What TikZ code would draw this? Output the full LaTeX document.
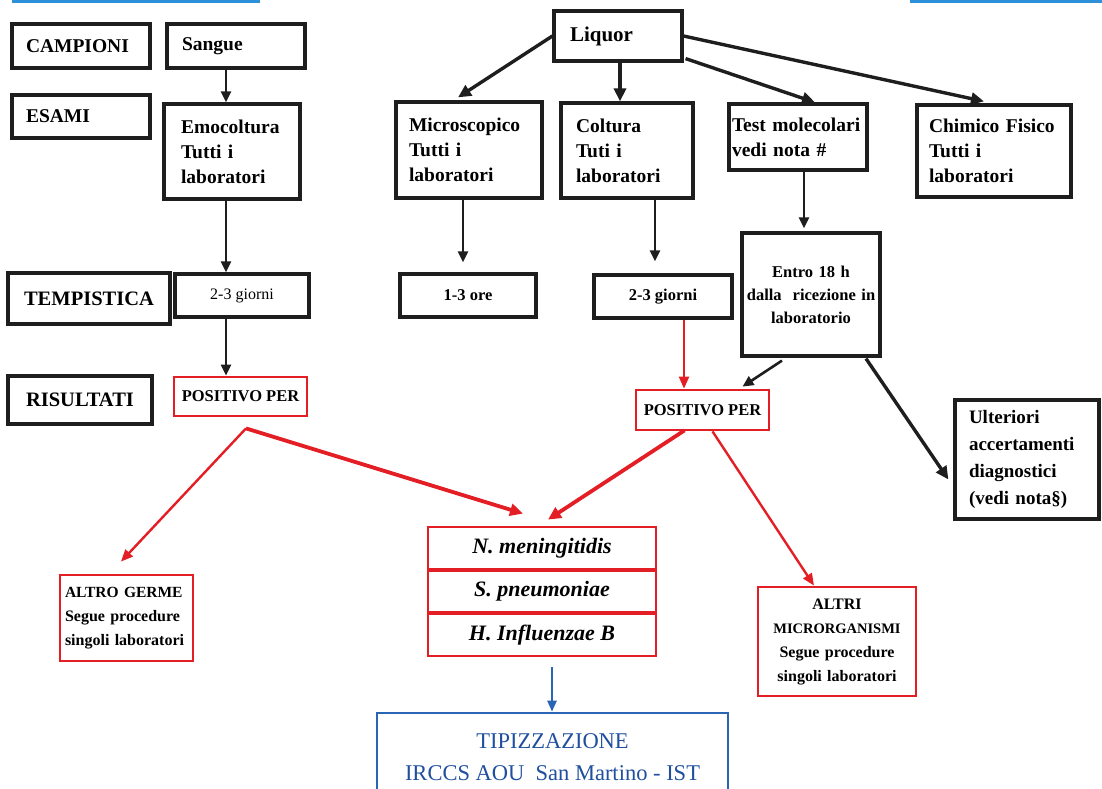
\documentclass[tikz,border=0pt]{standalone}
\usepackage{fontspec}
\setmainfont{Liberation Serif}
\usetikzlibrary{arrows.meta,calc}
\definecolor{bk}{HTML}{1E1E1E}
\definecolor{rd}{HTML}{E31E25}
\definecolor{bl}{HTML}{2A64B4}
\definecolor{bltxt}{HTML}{1F4F9E}
\definecolor{topbl}{HTML}{2E90D8}
\begin{document}
\begin{tikzpicture}[x=1pt,y=-1pt,
  bbox/.style={draw=bk, line width=3.2pt, inner sep=0pt, fill=white, text=black},
  rbox/.style={draw=rd, line width=2.8pt, inner sep=0pt, fill=white, text=black},
  lft/.style={align=left},
  ctr/.style={align=center},
  fbody/.style={font=\fontsize{19.5}{25}\selectfont\bfseries},
  fhead/.style={font=\fontsize{20.5}{25}\selectfont\bfseries},
  fsmall/.style={font=\fontsize{16.5}{22}\selectfont\bfseries},
  arr/.style={draw=bk, line width=2.6pt, -{Triangle[length=11pt,width=10pt]}},
  arrT/.style={draw=bk, line width=3.4pt, -{Triangle[length=13pt,width=12pt]}},
  rarr/.style={draw=rd, line width=2.4pt, -{Triangle[length=12pt,width=10pt]}},
  rarrT/.style={draw=rd, line width=3.8pt, -{Triangle[length=13pt,width=12pt]}},
  barr/.style={draw=bl, line width=2.4pt, -{Triangle[length=11pt,width=9pt]}},
]
\useasboundingbox (0,0) rectangle (1102,789);

% cut-off boxes at the top edge
\draw[topbl, line width=3pt] (12,1.5) -- (260,1.5);
\draw[topbl, line width=3pt] (910,1.5) -- (1102,1.5);

% row labels
\node[bbox, fbody, minimum width=138, minimum height=44, text width=110, inner xsep=14, lft] (campioni) at (81,46) {CAMPIONI};
\node[bbox, fbody, minimum width=138, minimum height=43, text width=110, inner xsep=14, lft] (esami) at (81,116.5) {ESAMI};
\node[bbox, fhead, minimum width=162, minimum height=51, ctr] (tempistica) at (89,298.5) {TEMPISTICA};
\node[bbox, fhead, minimum width=144, minimum height=48, ctr] (risultati) at (80,400) {RISULTATI};

% samples
\node[bbox, fbody, minimum width=138, minimum height=44, text width=108, inner xsep=15, lft] (sangue) at (236,46) {Sangue};
\node[bbox, font=\fontsize{21}{25}\selectfont\bfseries, minimum width=128, minimum height=50, text width=96, inner xsep=16, lft] (liquor) at (618,36) {Liquor};

% exams
\node[bbox, fbody, minimum width=136, minimum height=95, text width=102, inner xsep=17, lft] (emo) at (232,151.5) {Emocoltura\\Tutti i\\laboratori};
\node[bbox, fbody, minimum width=146, minimum height=96, text width=120, inner xsep=13, lft] (micro) at (469,150) {Microscopico\\Tutti i\\laboratori};
\node[bbox, fbody, minimum width=132, minimum height=95, text width=102, inner xsep=15, lft] (coltura) at (627,150.5) {Coltura\\Tuti i\\laboratori};
\node[bbox, fbody, minimum width=138, minimum height=66, text width=132, inner xsep=3, lft] (test) at (798,137) {Test molecolari\\vedi nota \#};
\node[bbox, fbody, minimum width=154, minimum height=92, text width=130, inner xsep=12, lft] (chimico) at (994,151) {Chimico Fisico\\Tutti i\\laboratori};

% timing
\node[bbox, font=\fontsize{16}{20}\selectfont, minimum width=134, minimum height=43, ctr] (giorniL) at (242,295.5) {2-3 giorni};
\node[bbox, fsmall, minimum width=136, minimum height=43, ctr] (ore) at (468,295.5) {1-3 ore};
\node[bbox, fsmall, minimum width=138, minimum height=43, ctr] (giorniR) at (663,296.5) {2-3 giorni};
\node[bbox, font=\fontsize{16.5}{23}\selectfont\bfseries, minimum width=138, minimum height=123, text width=136, ctr] (entro) at (811,294.5) {Entro 18 h\\dalla\ \ ricezione in\\laboratorio};

% results
\node[rbox, fsmall, minimum width=133, minimum height=39, ctr] (posL) at (240.5,396.5) {POSITIVO PER};
\node[rbox, fsmall, minimum width=133, minimum height=40, ctr] (posR) at (702.5,410) {POSITIVO PER};
\node[bbox, font=\fontsize{19}{27}\selectfont\bfseries, minimum width=144, minimum height=119, text width=116, inner xsep=14, lft] (ulteriori) at (1027,459.5) {Ulteriori\\accertamenti\\diagnostici\\(vedi nota§)};

% organisms
\node[rbox, font=\fontsize{16}{24}\selectfont\bfseries, minimum width=133, minimum height=86, text width=123, inner xsep=5, lft] (altro) at (126.5,618) {{\fontsize{15.5}{24}\selectfont ALTRO GERME}\\Segue procedure\\singoli laboratori};
\node[rbox, font=\fontsize{16}{24}\selectfont\bfseries, minimum width=158, minimum height=109, text width=154, ctr] (altri) at (837,641.5) {ALTRI\\{\fontsize{14.5}{24}\selectfont MICRORGANISMI}\\Segue procedure\\singoli laboratori};

\node[rbox, font=\fontsize{22}{26}\selectfont\bfseries\itshape, minimum width=228, minimum height=42, ctr] (nm) at (542,548) {N. meningitidis};
\node[rbox, font=\fontsize{22}{26}\selectfont\bfseries\itshape, minimum width=228, minimum height=41, ctr] (sp) at (542,591.5) {S. pneumoniae};
\node[rbox, font=\fontsize{22}{26}\selectfont\bfseries\itshape, minimum width=228, minimum height=42, ctr] (hi) at (542,635) {H. Influenzae B};

\node[draw=bl, line width=2.6pt, fill=white, text=bltxt, font=\fontsize{22.5}{32}\selectfont, minimum width=351, minimum height=88, inner sep=0pt, ctr] (tip) at (552.5,757) {TIPIZZAZIONE\\IRCCS AOU\ \ San Martino - IST};

% guides for vertical connectors
\coordinate (gA) at (226,0);
\coordinate (gB) at (620,0);
\coordinate (gC) at (463,0);
\coordinate (gD) at (655,0);
\coordinate (gE) at (804,0);
\coordinate (gF) at (684,0);
\coordinate (gG) at (552,0);

% black connectors
\draw[arr] (sangue.south -| gA) -- (emo.north -| gA);
\draw[arr] (emo.south -| gA) -- (giorniL.north -| gA);
\draw[arr] (giorniL.south -| gA) -- (posL.north -| gA);

\draw[arrT] (liquor.west) -- ($(micro.north)+(-11,-3)$);
\draw[arrT] (liquor.south -| gB) -- (coltura.north -| gB);
\draw[arrT] ($(liquor.south east)+(2,-4)$) -- ($(test.north)+(17,0)$);
\draw[arrT] (liquor.east) -- ($(chimico.north)+(-10,-2)$);

\draw[arr, shorten >=10pt] (micro.south -| gC) -- (ore.north -| gC);
\draw[arr, shorten >=12pt] (coltura.south -| gD) -- (giorniR.north -| gD);
\draw[arr, shorten >=3pt] (test.south -| gE) -- (entro.north -| gE);

\draw[arr] ($(entro.south)+(-29,3)$) -- ($(posR.north)+(40,-2)$);
\draw[arrT] ($(entro.south)+(55,1)$) -- ($(ulteriori.west)+(-5,20)$);

% red connectors
\draw[rarr] (giorniR.south -| gF) -- (posR.north -| gF);
\coordinate (aL) at ($(posL.south)+(5.5,11)$);
\draw[rarr] (aL) -- ($(altro.north)+(-5.5,-12)$);
\draw[rarrT] (aL) -- ($(nm.north)+(-19,-12)$);
\draw[rarrT] ($(posR.south)+(-18,-1)$) -- ($(nm.north)+(6,-6)$);
\draw[rarr] ($(posR.south)+(10,0)$) -- ($(altri.north)+(-23,0)$);

% blue connector
\draw[barr, shorten <=10pt] (hi.south -| gG) -- (tip.north -| gG);
\end{tikzpicture}
\end{document}
